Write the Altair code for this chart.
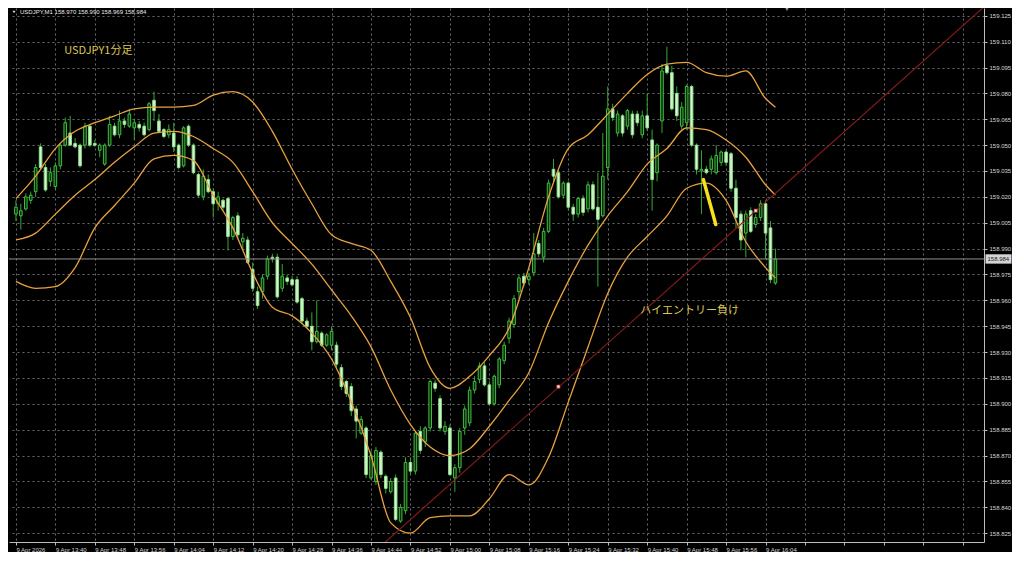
import altair as alt
import pandas as pd

# ---------------- data ----------------
OPEN = [159.010, 159.009, 159.013, 159.018, 159.023, 159.049, 159.037, 159.029, 159.026, 159.038,
        159.050, 159.057, 159.051, 159.050, 159.050, 159.061, 159.051, 159.047, 159.039, 159.050,
        159.061, 159.056, 159.064, 159.061, 159.060, 159.062, 159.061, 159.059, 159.076, 159.064,
        159.059, 159.056, 159.057, 159.050, 159.038, 159.061, 159.050, 159.033, 159.020, 159.030,
        159.023, 159.016, 159.018, 159.019, 158.997, 159.009, 158.994, 158.995, 158.978, 158.965,
        158.965, 158.974, 158.985, 158.985, 158.967, 158.973, 158.972, 158.972, 158.961, 158.948,
        158.945, 158.936, 158.941, 158.934, 158.934, 158.934, 158.921, 158.913, 158.910, 158.897,
        158.883, 158.886, 158.857, 158.855, 158.872, 158.858, 158.849, 158.857, 158.832, 158.838,
        158.866, 158.861, 158.884, 158.878, 158.886, 158.912, 158.903, 158.884, 158.886, 158.857,
        158.863, 158.886, 158.889, 158.908, 158.914, 158.922, 158.911, 158.900, 158.911, 158.925,
        158.938, 158.946, 158.965, 158.974, 158.972, 158.976, 158.993, 158.985, 159.000, 159.036,
        159.034, 159.021, 159.028, 159.014, 159.010, 159.019, 159.013, 159.027, 159.014, 159.009,
        159.037, 159.071, 159.057, 159.067, 159.061, 159.068, 159.068, 159.056, 159.067, 159.053,
        159.034, 159.064, 159.096, 159.092, 159.080, 159.061, 159.063, 159.084, 159.050, 159.035,
        159.036, 159.036, 159.034, 159.040, 159.046, 159.045, 159.025, 159.010, 158.999, 159.012,
        159.004, 159.008, 159.016, 159.002, 158.970]
HIGH = [159.018, 159.016, 159.022, 159.023, 159.039, 159.051, 159.039, 159.037, 159.040, 159.051,
        159.066, 159.067, 159.054, 159.051, 159.063, 159.062, 159.053, 159.051, 159.051, 159.067,
        159.063, 159.070, 159.066, 159.071, 159.065, 159.064, 159.063, 159.075, 159.081, 159.068,
        159.060, 159.062, 159.063, 159.051, 159.061, 159.062, 159.051, 159.034, 159.036, 159.033,
        159.025, 159.023, 159.019, 159.020, 159.009, 159.011, 158.999, 158.997, 158.982, 158.968,
        158.975, 158.986, 158.987, 158.987, 158.981, 158.975, 158.974, 158.974, 158.962, 158.950,
        158.953, 158.960, 158.942, 158.941, 158.945, 158.936, 158.923, 158.914, 158.912, 158.899,
        158.893, 158.887, 158.873, 158.875, 158.873, 158.859, 158.857, 158.859, 158.842, 158.869,
        158.869, 158.884, 158.887, 158.887, 158.914, 158.914, 158.905, 158.890, 158.888, 158.865,
        158.886, 158.899, 158.910, 158.916, 158.924, 158.924, 158.913, 158.917, 158.927, 158.936,
        158.950, 158.963, 158.975, 158.976, 158.976, 158.999, 158.995, 159.002, 159.030, 159.042,
        159.036, 159.029, 159.029, 159.016, 159.020, 159.021, 159.029, 159.029, 159.034, 159.057,
        159.084, 159.074, 159.070, 159.068, 159.071, 159.070, 159.070, 159.070, 159.080, 159.059,
        159.051, 159.097, 159.107, 159.096, 159.084, 159.075, 159.085, 159.085, 159.051, 159.047,
        159.038, 159.044, 159.050, 159.047, 159.047, 159.046, 159.030, 159.012, 159.012, 159.014,
        159.010, 159.018, 159.018, 159.006, 158.990]
LOW = [159.006, 159.001, 159.012, 159.016, 159.020, 159.036, 159.023, 159.026, 159.024, 159.036,
       159.049, 159.050, 159.048, 159.037, 159.048, 159.049, 159.049, 159.043, 159.038, 159.049,
       159.055, 159.054, 159.060, 159.060, 159.053, 159.058, 159.055, 159.058, 159.064, 159.057,
       159.054, 159.054, 159.046, 159.036, 159.037, 159.049, 159.033, 159.020, 159.018, 159.022,
       159.008, 159.012, 159.012, 158.989, 158.995, 158.996, 158.989, 158.981, 158.965, 158.955,
       158.961, 158.972, 158.982, 158.961, 158.965, 158.969, 158.968, 158.958, 158.947, 158.944,
       158.931, 158.935, 158.933, 158.933, 158.931, 158.921, 158.908, 158.904, 158.893, 158.880,
       158.882, 158.857, 158.856, 158.853, 158.857, 158.848, 158.848, 158.832, 158.831, 158.836,
       158.859, 158.859, 158.871, 158.875, 158.884, 158.907, 158.884, 158.882, 158.858, 158.849,
       158.860, 158.882, 158.887, 158.906, 158.912, 158.910, 158.899, 158.899, 158.909, 158.923,
       158.935, 158.944, 158.961, 158.968, 158.969, 158.974, 158.985, 158.982, 158.999, 159.029,
       159.019, 159.019, 159.012, 159.006, 159.008, 159.009, 159.011, 159.012, 158.968, 159.008,
       159.030, 159.064, 159.055, 159.055, 159.059, 159.054, 159.061, 159.054, 159.058, 159.012,
       159.029, 159.057, 159.091, 159.070, 159.064, 159.059, 159.059, 159.049, 159.033, 159.010,
       159.033, 159.033, 159.033, 159.038, 159.038, 159.023, 159.002, 158.989, 158.985, 158.999,
       159.002, 159.006, 158.984, 158.970, 158.969]
CLOSE = [159.014, 159.012, 159.020, 159.021, 159.037, 159.037, 159.024, 159.034, 159.038, 159.050,
         159.063, 159.050, 159.049, 159.038, 159.061, 159.050, 159.050, 159.050, 159.050, 159.062,
         159.056, 159.064, 159.062, 159.068, 159.063, 159.060, 159.056, 159.074, 159.070, 159.058,
         159.055, 159.059, 159.049, 159.037, 159.060, 159.050, 159.034, 159.021, 159.032, 159.023,
         159.016, 159.020, 159.014, 158.997, 159.008, 158.998, 158.996, 158.982, 158.967, 158.957,
         158.973, 158.984, 158.984, 158.962, 158.974, 158.971, 158.969, 158.959, 158.948, 158.945,
         158.936, 158.942, 158.934, 158.940, 158.942, 158.923, 158.910, 158.906, 158.896, 158.890,
         158.891, 158.859, 158.870, 158.873, 158.859, 158.851, 158.855, 158.833, 158.840, 158.866,
         158.861, 158.883, 158.873, 158.886, 158.913, 158.909, 158.886, 158.887, 158.859, 158.863,
         158.884, 158.897, 158.908, 158.913, 158.922, 158.911, 158.900, 158.916, 158.926, 158.934,
         158.948, 158.961, 158.973, 158.970, 158.974, 158.987, 158.987, 159.000, 159.028, 159.032,
         159.020, 159.028, 159.014, 159.010, 159.019, 159.011, 159.027, 159.013, 159.007, 159.032,
         159.071, 159.066, 159.068, 159.057, 159.070, 159.056, 159.063, 159.067, 159.060, 159.030,
         159.050, 159.093, 159.092, 159.071, 159.067, 159.072, 159.084, 159.050, 159.036, 159.036,
         159.034, 159.042, 159.044, 159.046, 159.040, 159.025, 159.008, 158.995, 159.010, 159.000,
         159.008, 159.016, 158.999, 158.972, 158.984]

BAND_T = [0, 4, 8, 12, 16, 20, 24, 28, 32, 36, 40, 44, 48, 52, 56, 60, 64, 68, 72, 76,
          80, 84, 88, 92, 96, 100, 104, 108, 112, 116, 120, 124, 128, 132, 136, 140, 144, 148, 152, 154]
UPPER = [159.019, 159.032, 159.048, 159.058, 159.063, 159.067, 159.071, 159.072, 159.072, 159.073,
         159.079, 159.081, 159.075, 159.058, 159.036, 159.016, 158.998, 158.993, 158.989, 158.971,
         158.950, 158.921, 158.909, 158.916, 158.928, 158.944, 158.979, 159.020, 159.048, 159.056,
         159.068, 159.080, 159.091, 159.097, 159.098, 159.092, 159.090, 159.093, 159.077, 159.072]
MIDDLE = [158.995, 158.999, 159.010, 159.021, 159.030, 159.040, 159.049, 159.057, 159.058, 159.055,
          159.048, 159.040, 159.023, 159.005, 158.993, 158.981, 158.966, 158.951, 158.933, 158.908,
          158.888, 158.875, 158.870, 158.874, 158.887, 158.902, 158.918, 158.947, 158.971, 158.992,
          159.009, 159.023, 159.039, 159.048, 159.060, 159.059, 159.053, 159.043, 159.027, 159.021]
LOWER = [158.971, 158.967, 158.968, 158.979, 159.002, 159.015, 159.028, 159.042, 159.044, 159.041,
         159.021, 159.002, 158.976, 158.956, 158.951, 158.941, 158.926, 158.901, 158.870, 158.831,
         158.825, 158.834, 158.835, 158.835, 158.845, 158.859, 158.853, 158.869, 158.901, 158.933,
         158.964, 158.985, 158.997, 159.009, 159.025, 159.028, 159.018, 158.994, 158.979, 158.973]

TREND_T = [73.0, 197.0]
TREND_P = [158.815, 159.132]
ANCHOR_T = [110, 150]
ANCHOR_P = [158.910, 159.012]
YELLOW_T = [139.4, 141.9]
YELLOW_P = [159.030, 159.004]

Y_TICKS = [158.825, 158.840, 158.855, 158.870, 158.885, 158.900, 158.915, 158.930, 158.945,
           158.960, 158.975, 158.990, 159.005, 159.020, 159.035, 159.050, 159.065, 159.080,
           159.095, 159.110, 159.125]
X_TICKS = list(range(0, 193, 8))
X_LABELS = ["9 Apr 2026", "9 Apr 13:40", "9 Apr 13:48", "9 Apr 13:56", "9 Apr 14:04",
            "9 Apr 14:12", "9 Apr 14:20", "9 Apr 14:28", "9 Apr 14:36", "9 Apr 14:44",
            "9 Apr 14:52", "9 Apr 15:00", "9 Apr 15:08", "9 Apr 15:16", "9 Apr 15:24",
            "9 Apr 15:32", "9 Apr 15:40", "9 Apr 15:48", "9 Apr 15:56", "9 Apr 16:04"]

SYMBOL = "USDJPY,M1"
LAST_OHLC = [158.970, 158.990, 158.969, 158.984]
CURRENT = 158.984
NOTE1 = {"t": 9.8, "p": 159.1046, "text": "USDJPY1分足"}
NOTE2 = {"t": 126.6, "p": 158.954, "text": "ハイエントリー負け"}

# ---------------- styling ----------------
W, H = 975, 534
BG = "#000000"
GRID = "#6a6a6a"
AXIS = "#bdbdbd"
LABEL = "#d6d6d6"
BULL_FILL, BULL_STROKE = "#0c2c0c", "#3fc13f"
BEAR_FILL, BEAR_STROKE = "#d6f5cf", "#8ee08a"
WICK = "#35a835"
BAND = "#e9a23e"
TREND = "#8a1c1c"
NOTE = "#dcc84e"
FONT = "Liberation Sans"
JFONT = "Noto Sans CJK JP"

xs = alt.Scale(domain=[-0.39, 195.28], nice=False, zero=False)
ys = alt.Scale(domain=[158.8199, 159.1295], nice=False, zero=False)

label_arr = "[" + ",".join("'" + s + "'" for s in X_LABELS) + "]"
xaxis = alt.Axis(values=X_TICKS, labelExpr=label_arr + "[round(datum.value / 8)] || ''",
                 title=None, orient="bottom", grid=True, gridColor=GRID, gridDash=[2, 3],
                 gridWidth=1, tickSize=3, tickColor=AXIS, domainColor=AXIS, labelAlign="left",
                 labelColor=LABEL, labelFont=FONT, labelFontSize=6, labelPadding=1,
                 labelFlush=False, labelOverlap=False, labelBaseline="top")
yaxis = alt.Axis(values=Y_TICKS, format=".3f", title=None, orient="right", grid=True,
                 gridColor=GRID, gridDash=[2, 3], gridWidth=1, tickSize=3, tickColor=AXIS,
                 domainColor=AXIS, labelAlign="left", labelBaseline="middle", labelColor=LABEL,
                 labelFont=FONT, labelFontSize=6, labelPadding=2, labelFlush=False,
                 labelOverlap=False)


def X(f):
    return alt.X(f, type="quantitative", scale=xs, axis=xaxis)


def Y(f):
    return alt.Y(f, type="quantitative", scale=ys, axis=yaxis)


n = len(OPEN)
candles = pd.DataFrame({"t": list(range(n)), "open": OPEN, "high": HIGH, "low": LOW, "close": CLOSE})
candles["kind"] = ["bull" if c >= o else "bear" for o, c in zip(OPEN, CLOSE)]

bands = pd.concat([
    pd.DataFrame({"t": BAND_T, "v": UPPER, "band": "upper"}),
    pd.DataFrame({"t": BAND_T, "v": MIDDLE, "band": "middle"}),
    pd.DataFrame({"t": BAND_T, "v": LOWER, "band": "lower"}),
])

wicks = alt.Chart(candles).mark_rule(strokeWidth=1, color=WICK).encode(
    x=X("t"), y=Y("low"), y2="high")
bodies = alt.Chart(candles).mark_bar(width=2.6, strokeWidth=1).encode(
    x=X("t"), y=Y("open"), y2="close",
    fill=alt.Fill("kind:N", scale=alt.Scale(domain=["bull", "bear"], range=[BULL_FILL, BEAR_FILL]), legend=None),
    stroke=alt.Stroke("kind:N", scale=alt.Scale(domain=["bull", "bear"], range=[BULL_STROKE, BEAR_STROKE]), legend=None))

band_lines = alt.Chart(bands).mark_line(strokeWidth=1.3, color=BAND, interpolate="monotone").encode(
    x=X("t"), y=Y("v"), detail="band:N")

price_line = alt.Chart(pd.DataFrame({"p": [CURRENT]})).mark_rule(color="#8f8f8f", strokeWidth=1).encode(
    y=Y("p"))

trend = alt.Chart(pd.DataFrame({"t": TREND_T, "p": TREND_P})).mark_line(
    color=TREND, strokeWidth=1.1, clip=True).encode(x=X("t"), y=Y("p"))
anchors = alt.Chart(pd.DataFrame({"t": ANCHOR_T, "p": ANCHOR_P})).mark_point(
    shape="square", size=10, filled=True, color="#f4eaea", stroke="#c03030", strokeWidth=0.8,
    opacity=1).encode(x=X("t"), y=Y("p"))
yellow = alt.Chart(pd.DataFrame({"t": YELLOW_T, "p": YELLOW_P})).mark_line(
    color="#f7e11a", strokeWidth=3.5, strokeCap="round").encode(x=X("t"), y=Y("p"))

notes = alt.Chart(pd.DataFrame([NOTE1, NOTE2])).mark_text(
    align="left", baseline="middle", font=JFONT, fontSize=11, color=NOTE).encode(
    x=X("t"), y=Y("p"), text="text:N")

header_text = SYMBOL + "  " + " ".join(f"{v:.3f}" for v in LAST_OHLC)
header = alt.Chart(pd.DataFrame({"s": [header_text]})).mark_text(
    align="left", baseline="middle", font=FONT, fontSize=6, color="#e8e8e8").encode(
    x=alt.value(11), y=alt.value(4), text="s:N")
header_tri = alt.Chart(pd.DataFrame({"a": [0]})).mark_point(
    shape="triangle-down", size=10, filled=True, color="#d0d0d0", opacity=1).encode(
    x=alt.value(5), y=alt.value(4))
shift_tri = alt.Chart(pd.DataFrame({"a": [0]})).mark_point(
    shape="triangle-down", size=12, filled=True, color="#9a9a9a", opacity=1).encode(
    x=alt.value(778), y=alt.value(1.5))

box_path = "M-1,-0.36L1,-0.36L1,0.36L-1,0.36Z"
price_box = alt.Chart(pd.DataFrame({"p": [CURRENT]})).mark_point(
    shape=box_path, size=676, filled=True, color="#d4d4d4", opacity=1).encode(
    x=alt.value(W + 14.5), y=Y("p"))
price_txt = alt.Chart(pd.DataFrame({"p": [CURRENT], "s": [f"{CURRENT:.3f}"]})).mark_text(
    align="left", baseline="middle", font=FONT, fontSize=6, color="#1a1a1a").encode(
    x=alt.value(W + 3.5), y=Y("p"), text="s:N")

chart = alt.layer(
    wicks, bodies, band_lines, price_line, trend, anchors, yellow, notes,
    header_tri, header, shift_tri, price_box, price_txt
).properties(width=W, height=H, padding=0, background=BG).configure_view(stroke=None)

chart.save("out.html", embed_options={"renderer": "svg", "actions": False})
